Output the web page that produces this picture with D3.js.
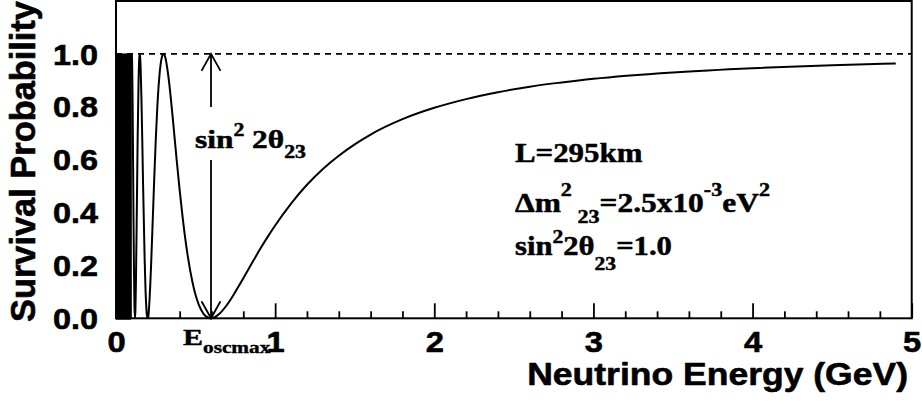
<!DOCTYPE html>
<html>
<head>
<meta charset="utf-8">
<script src="https://cdn.jsdelivr.net/npm/d3@7"></script>
<style>
  html, body { margin: 0; padding: 0; background: #fff; }
  svg { display: block; }
</style>
</head>
<body>
<svg id="chart" width="922" height="402"></svg>
<script>
// ---------------- data ----------------
const energyGeV = [0.0994, 0.1015, 0.104, 0.107, 0.110, 0.113, 0.116, 0.119, 0.122, 0.125,
  0.130, 0.136, 0.142, 0.146, 0.149, 0.152, 0.155, 0.160, 0.165, 0.170,
  0.180, 0.185, 0.190, 0.195, 0.199, 0.205, 0.210, 0.220, 0.230, 0.240,
  0.250, 0.260, 0.270, 0.280, 0.290, 0.298, 0.310, 0.320, 0.330, 0.350,
  0.360, 0.380, 0.400, 0.420, 0.450, 0.480, 0.500, 0.520, 0.550, 0.580,
  0.597, 0.620, 0.650, 0.700, 0.750, 0.800, 0.850, 0.900, 0.950, 1.000,
  1.100, 1.200, 1.300, 1.400, 1.500, 1.600, 1.800, 2.000, 2.200, 2.400,
  2.600, 2.800, 3.000, 3.500, 4.000, 4.500, 4.900];
const survivalProb = [1.000, 0.962, 0.834, 0.613, 0.376, 0.178, 0.047, 0.000, 0.031, 0.125,
  0.366, 0.678, 0.905, 0.983, 1.000, 0.985, 0.943, 0.827, 0.675, 0.511,
  0.223, 0.118, 0.046, 0.008, 0.000, 0.020, 0.063, 0.193, 0.357, 0.524,
  0.677, 0.803, 0.897, 0.959, 0.992, 1.000, 0.986, 0.954, 0.911, 0.799,
  0.736, 0.607, 0.485, 0.375, 0.239, 0.138, 0.088, 0.052, 0.017, 0.002,
  0.000, 0.004, 0.017, 0.053, 0.100, 0.151, 0.204, 0.256, 0.305, 0.351,
  0.434, 0.505, 0.565, 0.615, 0.658, 0.695, 0.753, 0.796, 0.829, 0.855,
  0.876, 0.892, 0.906, 0.930, 0.946, 0.957, 0.964];
// energy range where the fast oscillations merge into a solid black band
const denseBandGeV = [0, 0.0994];
const denseBandProb = [0, 1];
const maxProb = 1.0;          // dashed reference line
const eOscMax = 0.597;        // first oscillation maximum (arrow position)
const xMajorTicks = [0, 1, 2, 3, 4, 5];
const xMinorTicks = d3.range(0, 5.0001, 0.2);
const yTicks = [0.0, 0.2, 0.4, 0.6, 0.8, 1.0];
const xDomain = [0, 5];
const yDomain = [0, 1.2];
const xTitle = "Neutrino Energy (GeV)";
const yTitle = "Survival Probability";

// ---------------- layout ----------------
const L = 116, R = 911.7, T = 1, B = 318.3;
const SANS = "'Liberation Sans', Arial, Helvetica, sans-serif";
const SERIF = "'Liberation Serif', 'Times New Roman', Times, serif";

const svg = d3.select("#chart");
const x = d3.scaleLinear().domain(xDomain).range([L, R]);
const y = d3.scaleLinear().domain(yDomain).range([B, T]);

function stretch(sel, sx, ax) {
  sel.attr("transform", `translate(${ax},0) scale(${sx},1) translate(${-ax},0)`);
}
function fitWidth(sel, target, ax) {
  const w = sel.node().getBBox().width;
  stretch(sel, target / w, ax);
}
function heavy(sel, w) {
  sel.attr("stroke", "#000").attr("stroke-width", w).attr("stroke-linejoin", "round").attr("fill", "#000");
}

// dashed line at P = 1
svg.append("line")
  .attr("x1", x(xDomain[0])).attr("x2", x(xDomain[1]))
  .attr("y1", y(maxProb)).attr("y2", y(maxProb))
  .attr("stroke", "#000").attr("stroke-width", 1.8)
  .attr("stroke-dasharray", "6,5");

// dense oscillation band
svg.append("rect")
  .attr("x", x(denseBandGeV[0]))
  .attr("y", y(denseBandProb[1]))
  .attr("width", x(denseBandGeV[1]) - x(denseBandGeV[0]))
  .attr("height", y(denseBandProb[0]) - y(denseBandProb[1]))
  .attr("fill", "#000");

// curve
const pts = energyGeV.map((e, i) => [e, survivalProb[i]]);
svg.append("path")
  .datum(pts)
  .attr("fill", "none")
  .attr("stroke", "#000")
  .attr("stroke-width", 2)
  .attr("stroke-linejoin", "round")
  .attr("d", d3.line().x(d => x(d[0])).y(d => y(d[1])).curve(d3.curveMonotoneX));

// double arrow at E_oscmax
const ax = x(eOscMax);
const gapTop = 107, gapBot = 160;
const arrow = svg.append("g").attr("stroke", "#000").attr("stroke-width", 1.8).attr("fill", "none");
arrow.append("line").attr("x1", ax).attr("x2", ax).attr("y1", y(maxProb)).attr("y2", gapTop);
arrow.append("line").attr("x1", ax).attr("x2", ax).attr("y1", gapBot).attr("y2", y(0));
arrow.append("polyline").attr("points", `${ax - 9.5},${y(maxProb) + 17} ${ax},${y(maxProb)} ${ax + 9.5},${y(maxProb) + 17}`);
arrow.append("polyline").attr("points", `${ax - 9.5},${y(0) - 17} ${ax},${y(0)} ${ax + 9.5},${y(0) - 17}`);

// arrow label  sin^2 2θ23
{
  const t = svg.append("text").attr("x", 195).attr("y", 148)
    .attr("font-family", SERIF).attr("font-weight", "bold").attr("font-size", 26);
  t.append("tspan").text("sin");
  t.append("tspan").attr("font-size", 18).attr("dy", -12).text("2");
  t.append("tspan").attr("dy", 12).text("\u00a02\u03b8");
  t.append("tspan").attr("font-size", 18).attr("dy", 10).text("23");
  heavy(t, 0.5);
  fitWidth(t, 111, 195);
}

// E_oscmax label
{
  const t = svg.append("text").attr("x", 183).attr("y", 345)
    .attr("font-family", SERIF).attr("font-weight", "bold").attr("font-size", 24);
  t.append("tspan").text("E");
  t.append("tspan").attr("font-size", 17).attr("dy", 8).text("oscmax");
  heavy(t, 0.4);
  fitWidth(t, 88, 183);
}

// parameter box text
{
  const x0 = 515;
  const t1 = svg.append("text").attr("x", x0).attr("y", 162)
    .attr("font-family", SERIF).attr("font-weight", "bold").attr("font-size", 27)
    .text("L=295km");
  heavy(t1, 0.5);
  fitWidth(t1, 128, x0);

  const t2 = svg.append("text").attr("x", x0).attr("y", 212)
    .attr("font-family", SERIF).attr("font-weight", "bold").attr("font-size", 27);
  t2.append("tspan").text("\u0394m");
  t2.append("tspan").attr("font-size", 19).attr("dy", -16).text("2");
  t2.append("tspan").attr("font-size", 19).attr("dy", 27).text("\u00a023");
  t2.append("tspan").attr("dy", -11).text("=2.5x10");
  t2.append("tspan").attr("font-size", 19).attr("dy", -16).text("-3");
  t2.append("tspan").attr("dy", 16).text("eV");
  t2.append("tspan").attr("font-size", 19).attr("dy", -16).text("2");
  heavy(t2, 0.5);
  fitWidth(t2, 255, x0);

  const t3 = svg.append("text").attr("x", x0).attr("y", 255)
    .attr("font-family", SERIF).attr("font-weight", "bold").attr("font-size", 27);
  t3.append("tspan").text("sin");
  t3.append("tspan").attr("font-size", 19).attr("dy", -12).text("2");
  t3.append("tspan").attr("dy", 12).text("2\u03b8");
  t3.append("tspan").attr("font-size", 19).attr("dy", 15).text("23");
  t3.append("tspan").attr("dy", -15).text("=1.0");
  heavy(t3, 0.5);
  fitWidth(t3, 157, x0);
}

// x axis ticks (inward) and labels
const xMinorOnly = xMinorTicks.filter(v => !xMajorTicks.some(m => Math.abs(m - v) < 1e-6));
svg.append("g").attr("transform", `translate(0,${B})`)
  .call(d3.axisBottom(x).tickValues(xMinorOnly).tickSize(-7).tickFormat(""))
  .call(g => g.select(".domain").remove())
  .call(g => g.selectAll("line").attr("stroke", "#000").attr("stroke-width", 1.8));
const gx = svg.append("g").attr("transform", `translate(0,${B})`)
  .call(d3.axisBottom(x).tickValues(xMajorTicks).tickSize(-15).tickPadding(12).tickFormat(d3.format("d")))
  .call(g => g.select(".domain").remove());
gx.selectAll("line").attr("stroke", "#000").attr("stroke-width", 1.8);
gx.selectAll("text")
  .attr("font-family", SANS).attr("font-weight", "bold").attr("font-size", 30).attr("fill", "#000")
  .attr("stroke", "#000").attr("stroke-width", 0.6)
  .each(function () { stretch(d3.select(this), 1.09, 0); });

// y axis ticks (inward) and labels
const gy = svg.append("g").attr("transform", `translate(${L},0)`)
  .call(d3.axisLeft(y).tickValues(yTicks).tickSize(-15).tickPadding(18).tickFormat(d3.format(".1f")))
  .call(g => g.select(".domain").remove());
gy.selectAll("line").attr("stroke", "#000").attr("stroke-width", 1.8);
gy.selectAll("text")
  .attr("font-family", SANS).attr("font-weight", "bold").attr("font-size", 30).attr("fill", "#000")
  .attr("stroke", "#000").attr("stroke-width", 0.6)
  .attr("dy", "0.34em")
  .each(function () { stretch(d3.select(this), 1.08, -18); });

// frame
svg.append("rect")
  .attr("x", L).attr("y", T).attr("width", R - L).attr("height", B - T)
  .attr("fill", "none").attr("stroke", "#000").attr("stroke-width", 2);

// axis titles
{
  const tx = svg.append("text").attr("x", 908).attr("y", 385)
    .attr("text-anchor", "end")
    .attr("font-family", SANS).attr("font-weight", "bold").attr("font-size", 32)
    .text(xTitle);
  heavy(tx, 0.6);
  fitWidth(tx, 381, 908);

  const g = svg.append("g").attr("transform", "translate(35,322) rotate(-90)");
  const ty = g.append("text").attr("x", 0).attr("y", 0)
    .attr("font-family", SANS).attr("font-weight", "bold").attr("font-size", 34.5)
    .text(yTitle);
  heavy(ty, 0.6);
  fitWidth(ty, 321, 0);
}
</script>
</body>
</html>
